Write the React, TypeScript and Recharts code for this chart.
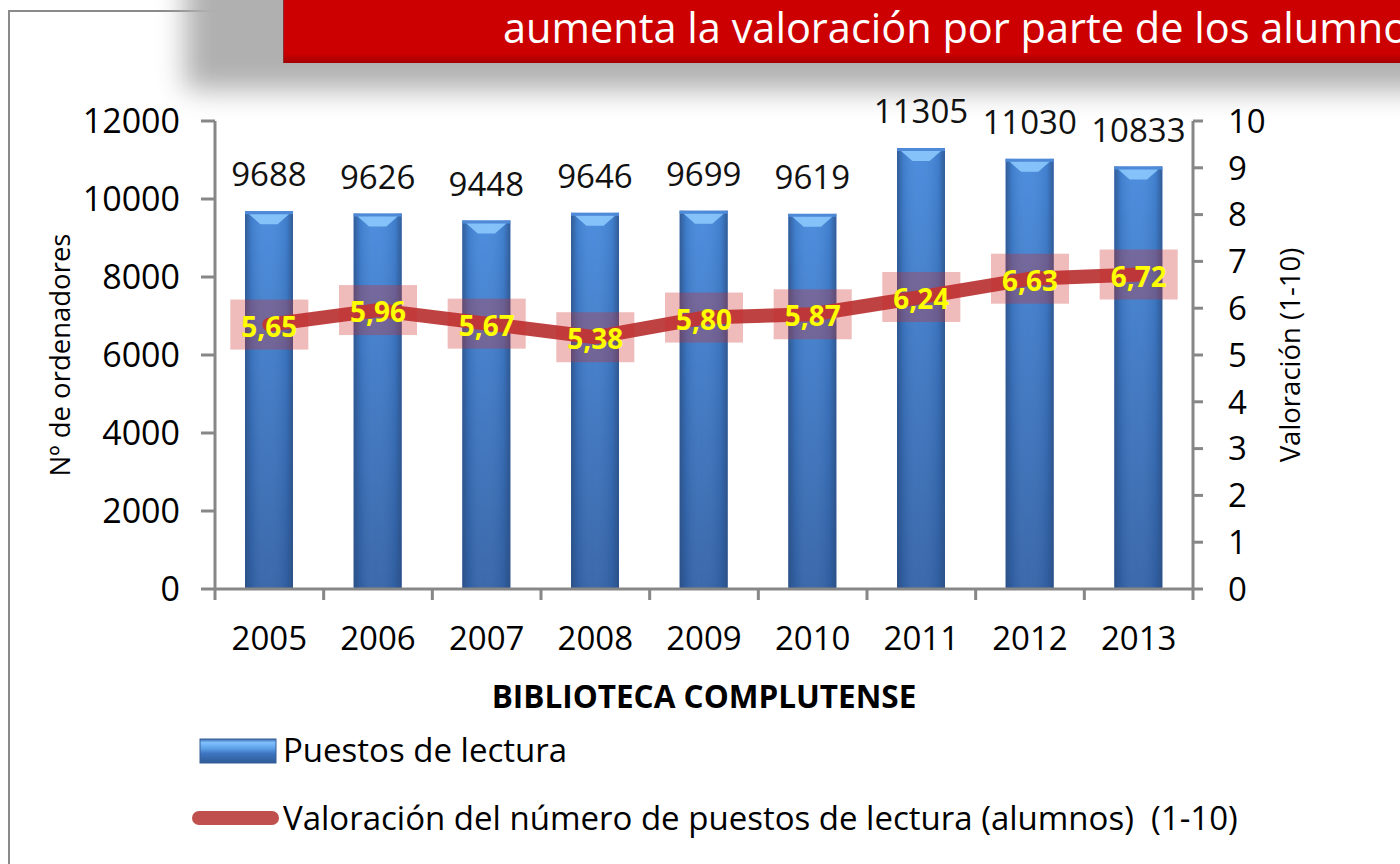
import React from "react";
import {
  ComposedChart,
  Bar,
  Line,
  XAxis,
  YAxis,
  LabelList,
} from "recharts";

const years = ["2005", "2006", "2007", "2008", "2009", "2010", "2011", "2012", "2013"];
const puestos = [9688, 9626, 9448, 9646, 9699, 9619, 11305, 11030, 10833];
const valoracion = [5.65, 5.96, 5.67, 5.38, 5.8, 5.87, 6.24, 6.63, 6.72];
const leftTicks = [0, 2000, 4000, 6000, 8000, 10000, 12000];
const rightTicks = [0, 1, 2, 3, 4, 5, 6, 7, 8, 9, 10];

const data = years.map((year, i) => ({
  year,
  puestos: puestos[i],
  valoracion: valoracion[i],
}));

const FONT = '"Open Sans", "Noto Sans", sans-serif';
const AXIS = "#878787";
const X_TICK_MARGIN = 38;

const fmt = (v: number) => v.toFixed(2).replace(".", ",");

// cylinder-ish bar like the old Excel style
const CylinderBar = (props: any) => {
  const { x, y, width, height } = props;
  if (!height || height <= 0) return null;
  return (
    <g>
      <rect x={x} y={y} width={width} height={height} fill="url(#barBody)" />
      <rect x={x} y={y} width={width} height={height} fill="url(#barSides)" />
      <rect x={x} y={y} width={width} height={3} fill="#4f8ad8" />
      <polygon
        points={`${x + 4},${y + 3} ${x + width - 4},${y + 3} ${x + width * 0.68},${y + 13} ${x + width * 0.32},${y + 13}`}
        fill="#8fcbff"
        opacity={0.85}
      />
    </g>
  );
};

// year label + tick marks between the categories (Excel puts them on the boundaries)
const YearTick = (props: any) => {
  const { x, y, payload, index, visibleTicksCount } = props;
  const half = payload && payload.offset ? payload.offset : 54;
  const axisY = y - X_TICK_MARGIN;
  const last = index === (visibleTicksCount ?? years.length) - 1;
  return (
    <g>
      <line x1={x - half} y1={axisY} x2={x - half} y2={axisY + 11} stroke={AXIS} strokeWidth={3} />
      {last && (
        <line x1={x + half} y1={axisY} x2={x + half} y2={axisY + 11} stroke={AXIS} strokeWidth={3} />
      )}
      <text
        x={x}
        y={y + 23}
        textAnchor="middle"
        fontSize={33}
        fontFamily={FONT}
        fill="#000"
      >
        {payload.value}
      </text>
    </g>
  );
};

const BarValue = (props: any) => {
  const { x, y, width, value } = props;
  return (
    <text
      x={x + width / 2}
      y={y - 25}
      textAnchor="middle"
      fontSize={33}
      fontFamily={FONT}
      fill="#111"
    >
      {value}
    </text>
  );
};

const RatingBox = (props: any) => {
  const { x, y } = props;
  return <rect x={x - 39} y={y - 25} width={78} height={50} fill="rgba(205,45,45,0.32)" />;
};

const RatingText = (props: any) => {
  const { x, y, value } = props;
  return (
    <text
      x={x}
      y={y + 1}
      textAnchor="middle"
      dominantBaseline="central"
      fontSize={28}
      fontWeight="bold"
      fontFamily={FONT}
      fill="#ffff00"
    >
      {fmt(value)}
    </text>
  );
};

export default function App() {
  return (
    <div
      style={{
        position: "fixed",
        left: 0,
        top: 0,
        width: 1400,
        height: 864,
        background: "#fff",
        overflow: "hidden",
        fontFamily: FONT,
      }}
    >
      {/* slide frame */}
      <div style={{ position: "absolute", left: 8, top: 10, width: 2, height: 860, background: "#8a8a8a" }} />
      <div style={{ position: "absolute", left: 8, top: 10, width: 280, height: 2, background: "#8a8a8a" }} />

      {/* banner shadow + banner */}
      <div
        style={{
          position: "absolute",
          left: 185,
          top: -40,
          width: 1300,
          height: 130,
          background: "#b0b0b0",
          filter: "blur(14px)",
        }}
      />
      <div
        style={{
          position: "absolute",
          left: 283,
          top: 0,
          width: 1200,
          height: 63,
          background: "linear-gradient(to bottom, #cc0000 0%, #cc0000 85%, #a30000 100%)",
          borderLeft: "1px solid #8a3030",
        }}
      />
      <svg width={1400} height={70} style={{ position: "absolute", left: 0, top: 0 }}>
        <text x={503} y={43} fontSize={41.5} fontFamily={FONT} fill="#fff">
          aumenta la valoración por parte de los alumnos
        </text>
      </svg>

      <div style={{ position: "absolute", left: 0, top: 0 }}>
        <ComposedChart
          width={1400}
          height={864}
          data={data}
          margin={{ top: 121, right: 0, bottom: 0, left: 0 }}
        >
          <defs>
            <linearGradient id="barBody" x1="0" y1="0" x2="0" y2="1">
              <stop offset="0%" stopColor="#4488dc" />
              <stop offset="100%" stopColor="#3161a6" />
            </linearGradient>
            <linearGradient id="barSides" x1="0" y1="0" x2="1" y2="0">
              <stop offset="0%" stopColor="#2a4a7a" stopOpacity={0.7} />
              <stop offset="14%" stopColor="#2a4a7a" stopOpacity={0.15} />
              <stop offset="45%" stopColor="#ffffff" stopOpacity={0.05} />
              <stop offset="86%" stopColor="#2a4a7a" stopOpacity={0.15} />
              <stop offset="100%" stopColor="#2a4a7a" stopOpacity={0.7} />
            </linearGradient>
          </defs>

          <XAxis
            xAxisId="cat"
            dataKey="year"
            height={275}
            tickSize={0}
            tickMargin={X_TICK_MARGIN}
            axisLine={{ stroke: AXIS, strokeWidth: 3 }}
            tickLine={false}
            tick={YearTick}
            interval={0}
            label={{
              value: "BIBLIOTECA COMPLUTENSE",
              position: "insideBottom",
              offset: 156,
              style: { fontSize: 31.5, fontWeight: "bold", fill: "#000", fontFamily: FONT },
            }}
          />
          <YAxis
            yAxisId="left"
            width={215}
            domain={[0, 12000]}
            ticks={leftTicks}
            tickSize={14}
            tickMargin={21}
            axisLine={{ stroke: AXIS, strokeWidth: 3 }}
            tickLine={{ stroke: AXIS, strokeWidth: 3 }}
            tick={{ fontSize: 34, fill: "#000", fontFamily: FONT }}
            label={{
              value: "Nº de ordenadores",
              angle: -90,
              position: "insideLeft",
              offset: 60,
              style: { textAnchor: "middle", fontSize: 27.5, fill: "#000", fontFamily: FONT },
            }}
          />
          <YAxis
            yAxisId="right"
            orientation="right"
            width={207}
            domain={[0, 10]}
            ticks={rightTicks}
            tickSize={10}
            tickMargin={25}
            axisLine={{ stroke: AXIS, strokeWidth: 3 }}
            tickLine={{ stroke: AXIS, strokeWidth: 3 }}
            tick={{ fontSize: 33, fill: "#000", fontFamily: FONT, textAnchor: "start" }}
            label={{
              value: "Valoración (1-10)",
              angle: -90,
              position: "insideRight",
              offset: 110,
              style: { textAnchor: "middle", fontSize: 27.5, fill: "#000", fontFamily: FONT },
            }}
          />

          <Bar
            xAxisId="cat"
            yAxisId="left"
            dataKey="puestos"
            barSize={48}
            shape={CylinderBar}
            isAnimationActive={false}
          >
            <LabelList dataKey="puestos" content={BarValue} />
          </Bar>

          {/* label boxes sit under the line */}
          <Line
            xAxisId="cat"
            yAxisId="right"
            dataKey="valoracion"
            stroke="none"
            dot={false}
            activeDot={false}
            isAnimationActive={false}
          >
            <LabelList dataKey="valoracion" content={RatingBox} />
          </Line>
          <Line
            xAxisId="cat"
            yAxisId="right"
            dataKey="valoracion"
            type="linear"
            stroke="#bc3838"
            strokeOpacity={0.95}
            strokeWidth={14}
            strokeLinecap="round"
            strokeLinejoin="round"
            dot={false}
            activeDot={false}
            isAnimationActive={false}
          >
            <LabelList dataKey="valoracion" content={RatingText} />
          </Line>
        </ComposedChart>
      </div>

      {/* legend */}
      <svg width={1400} height={140} style={{ position: "absolute", left: 0, top: 724 }}>
        <defs>
          <linearGradient id="legBar" x1="0" y1="0" x2="0" y2="1">
            <stop offset="0%" stopColor="#3b69a8" />
            <stop offset="15%" stopColor="#7fc0ff" />
            <stop offset="40%" stopColor="#5d9fe6" />
            <stop offset="60%" stopColor="#3e76c2" />
            <stop offset="100%" stopColor="#2f5a96" />
          </linearGradient>
        </defs>
        <rect x={200} y={15} width={76} height={24} fill="url(#legBar)" stroke="#365f98" strokeWidth={1} />
        <text x={283} y={38} fontSize={33} fontFamily={FONT} fill="#000">
          Puestos de lectura
        </text>
        <line x1={199} y1={94} x2={272} y2={94} stroke="#c0504d" strokeWidth={14} strokeLinecap="round" />
        <text x={283} y={106} fontSize={33} fontFamily={FONT} fill="#000" style={{ whiteSpace: "pre" }}>
          {"Valoración del número de puestos de lectura (alumnos)  (1-10)"}
        </text>
      </svg>
    </div>
  );
}
